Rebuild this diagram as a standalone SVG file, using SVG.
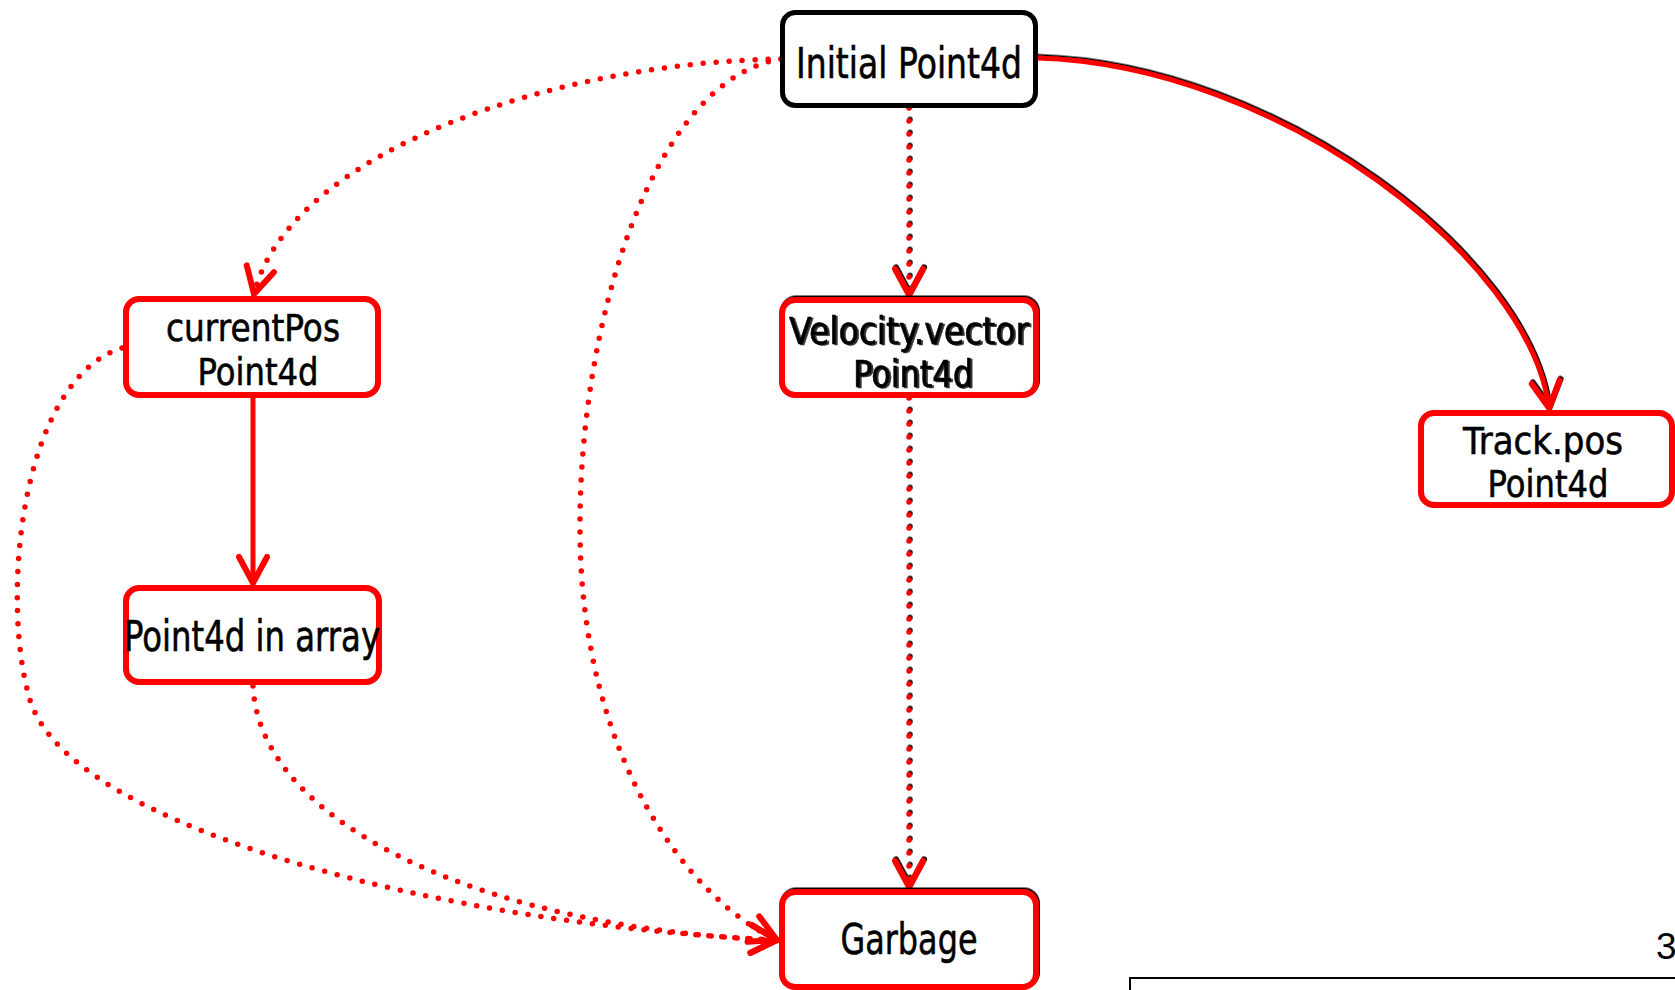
<svg xmlns="http://www.w3.org/2000/svg" width="1675" height="990" viewBox="0 0 1675 990">
<style>
.box{fill:#fff;stroke:#ff0000;stroke-width:6}
.box0{fill:#fff;stroke:#000;stroke-width:5}
.t{font-family:"DejaVu Sans","Liberation Sans",sans-serif;font-size:42px;fill:#000;stroke:#000;stroke-width:0.6;text-anchor:middle}
.t2{font-size:36.5px}
.solid{fill:none;stroke:#ff0000;stroke-width:5;stroke-linecap:round}
.dot{fill:none;stroke:#ff0000;stroke-width:5.5;stroke-linecap:round;stroke-dasharray:0 13}
</style>
<defs>
<marker id="ah" markerUnits="userSpaceOnUse" viewBox="-34 -20 40 40" refX="0" refY="0" markerWidth="40" markerHeight="40" orient="auto" overflow="visible">
<path d="M-26,-14 L0,0 L-26,14" fill="none" stroke="#ff0000" stroke-width="6" stroke-linecap="round" stroke-linejoin="miter" stroke-dasharray="none"/>
</marker>
<filter id="sh" filterUnits="userSpaceOnUse" x="0" y="0" width="1675" height="990">
<feDropShadow dx="1" dy="-1.5" stdDeviation="0" flood-color="#000"/>
</filter>
<filter id="dbl" filterUnits="userSpaceOnUse" x="0" y="0" width="1675" height="990">
<feDropShadow dx="2" dy="1" stdDeviation="0" flood-color="#000" flood-opacity="0.8"/>
</filter>
</defs>

<g id="connectors">
<path class="solid" filter="url(#sh)" marker-end="url(#ah)" d="M1037,58 C1280,65 1530,260 1549,408"/>
<path class="dot" marker-end="url(#ah)" d="M781,59 C560,62 290,150 254,294"/>
<path class="dot" marker-end="url(#ah)" d="M781,59 C650,80 578,330 580,534 C582,760 690,900 777,940"/>
<path class="dot" filter="url(#sh)" marker-end="url(#ah)" d="M909,108 L909,295"/>
<path class="dot" filter="url(#sh)" marker-end="url(#ah)" d="M909,398 L909,887"/>
<path class="solid" marker-end="url(#ah)" d="M253,398 L253,583"/>
<path class="dot" marker-end="url(#ah)" d="M122,348 C20,380 0,600 30,700 C70,830 450,925 777,940"/>
<path class="dot" marker-end="url(#ah)" d="M253,686 C260,830 500,930 777,940"/>
</g>

<g id="node-initial">
<rect class="box0" x="782.5" y="12.5" width="253" height="93" rx="13"/>
<text class="t" x="909" y="78" textLength="226" lengthAdjust="spacingAndGlyphs">Initial Point4d</text>
</g>

<g id="node-currentpos">
<rect class="box" x="126" y="299" width="252" height="96" rx="13"/>
<text class="t t2" x="253" y="341" textLength="174" lengthAdjust="spacingAndGlyphs">currentPos</text>
<text class="t t2" x="258" y="385" textLength="121" lengthAdjust="spacingAndGlyphs">Point4d</text>
</g>

<g id="node-velocity">
<rect class="box" filter="url(#sh)" x="782" y="300" width="254" height="95" rx="13"/>
<g filter="url(#dbl)">
<text class="t t2" x="909" y="344" textLength="240" lengthAdjust="spacingAndGlyphs">Velocity.vector</text>
<text class="t t2" x="913" y="387" textLength="120" lengthAdjust="spacingAndGlyphs">Point4d</text>
</g>
</g>

<g id="node-track">
<rect class="box" x="1421" y="413" width="251" height="92" rx="13"/>
<text class="t t2" x="1543" y="454" textLength="160" lengthAdjust="spacingAndGlyphs">Track.pos</text>
<text class="t t2" x="1548" y="497" textLength="121" lengthAdjust="spacingAndGlyphs">Point4d</text>
</g>

<g id="node-array">
<rect class="box" x="126" y="588" width="253" height="94" rx="13"/>
<text class="t" x="252" y="651" textLength="256" lengthAdjust="spacingAndGlyphs">Point4d in array</text>
</g>

<g id="node-garbage">
<rect class="box" filter="url(#sh)" x="782" y="892" width="254" height="95" rx="13"/>
<text class="t" x="909" y="954" textLength="137" lengthAdjust="spacingAndGlyphs" stroke-width="1">Garbage</text>
</g>

<g id="page">
<text x="1656" y="959" font-family="'Liberation Sans',Arial,sans-serif" font-size="37" fill="#000">3</text>
<path d="M1130,990 L1130,978 L1675,978" fill="none" stroke="#000" stroke-width="2"/>
</g>
</svg>
